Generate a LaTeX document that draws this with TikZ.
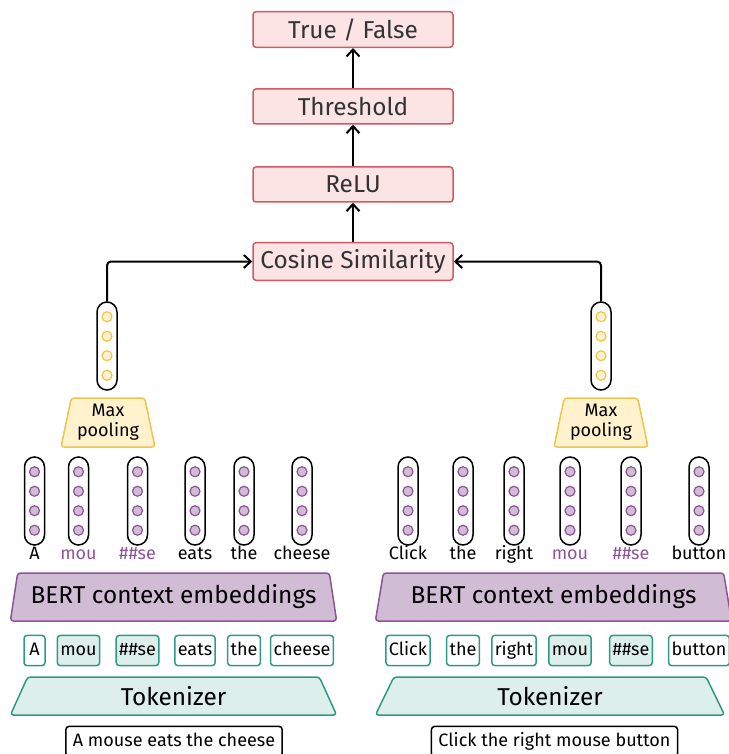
\documentclass[tikz,border=0pt]{standalone}
\usepackage{fontspec}
\setmainfont{Fira Sans}
\usetikzlibrary{shapes.geometric,arrows.meta,positioning}
\usepackage{xcolor}
\newcommand{\pxunit}{0.5pt}
\newcommand{\bigfnt}{\fontsize{12.2}{14}\selectfont}
\newcommand{\smallfnt}{\fontsize{9}{9.8}\selectfont}
\definecolor{opred}{HTML}{CF5A63}
\definecolor{opfill}{HTML}{FCE4E5}
\definecolor{poolgold}{HTML}{F0C44C}
\definecolor{poolfill}{HTML}{FFF2CC}
\definecolor{bertpur}{HTML}{8E5398}
\definecolor{bertfill}{HTML}{D1BCD5}
\definecolor{tokteal}{HTML}{2E9A82}
\definecolor{tokfill}{HTML}{DCEFEA}
\tikzset{
    opsty/.style={draw=opred,fill=opfill,rectangle,rounded corners=1.5pt,line width=0.75pt,minimum width=100pt,minimum height=17.5pt,font=\bigfnt,text=black!80},
    arrsty/.style={->,line width=1pt,rounded corners=2pt},
    vecsty/.style={draw,fill=white,rectangle,rounded corners=5pt,line width=0.75pt,minimum width=10pt,minimum height=44pt,inner sep=0pt},
    pdotsty/.style={circle,draw=bertpur,fill=bertfill,line width=0.6pt,minimum size=5pt,inner sep=0pt},
    ydotsty/.style={circle,draw=poolgold,fill=poolfill,line width=0.6pt,minimum size=5pt,inner sep=0pt},
    lblsty/.style={font=\smallfnt,anchor=base,inner sep=0pt},
    sublblsty/.style={lblsty,text=bertpur},
    toksty/.style={draw=tokteal,fill=white,rectangle,rounded corners=1.5pt,line width=0.75pt,font=\smallfnt,minimum height=14.5pt,minimum width=10.5pt,inner xsep=1.5pt,text height=6.6pt,text depth=1.8pt},
    subtoksty/.style={toksty,fill=tokfill},
    sentsty/.style={draw=black,fill=white,rectangle,rounded corners=1.5pt,line width=0.75pt,font=\smallfnt,minimum height=14.5pt,inner xsep=3.5pt,text height=6.6pt,text depth=1.8pt},
    trapsty/.style={trapezium,trapezium stretches=true,line width=0.75pt,rounded corners=1.5pt,inner sep=1pt},
    bertsty/.style={trapsty,draw=bertpur,fill=bertfill,trapezium angle=76.5,minimum height=24pt,font=\bigfnt},
    tokzsty/.style={trapsty,draw=tokteal,fill=tokfill,trapezium angle=74.5,minimum height=19pt,font=\bigfnt},
    poolsty/.style={trapsty,draw=poolgold,fill=poolfill,trapezium angle=77,minimum width=47pt,minimum height=24.5pt,font=\smallfnt,align=center},
}
% one embedding vector: name, x, y, dot style
\newcommand{\embvec}[4]{%
  \node[vecsty] (#1) at (#2,#3) {};
  \foreach \k in {1,...,4}
    \node[#4] (#1-\k) at (#2,#3-48.75+19.5*\k) {};
}

\begin{document}
\begin{tikzpicture}[x=\pxunit,y=-\pxunit,>={Straight Barb[length=3.5pt,width=6.5pt]}]
\useasboundingbox (0,0) rectangle (728,754);

% classifier head
\node[opsty] (out) at (353,29.5) {True / False};
\node[opsty] (thr) at (353,106.5) {Threshold};
\node[opsty] (relu) at (353,184.5) {ReLU};
\node[opsty] (cos) at (353,261.5) {Cosine Similarity};
\draw[arrsty] (cos.north) -- (relu.south);
\draw[arrsty] (relu.north) -- (thr.south);
\draw[arrsty] (thr.north) -- (out.south);

% pooled vectors
\embvec{lpool}{107}{346}{ydotsty}
\embvec{rpool}{601}{346}{ydotsty}
\draw[arrsty] (lpool.north) |- (cos.west);
\draw[arrsty] (rpool.north) |- (cos.east);
\node[poolsty] (lmax) at (108,422.5) {Max\\pooling};
\node[poolsty] (rmax) at (601,422.5) {Max\\pooling};

% left sentence
\embvec{lvec1}{34.5}{501}{pdotsty}
\embvec{lvec2}{78.5}{501}{pdotsty}
\embvec{lvec3}{137.5}{501}{pdotsty}
\embvec{lvec4}{195}{501}{pdotsty}
\embvec{lvec5}{244}{501}{pdotsty}
\embvec{lvec6}{302}{501}{pdotsty}
\node[lblsty] (llbl1) at (34.5,559) {A};
\node[sublblsty] (llbl2) at (78.5,559) {mou};
\node[sublblsty] (llbl3) at (137.5,559) {\#\#se};
\node[lblsty] (llbl4) at (195,559) {eats};
\node[lblsty] (llbl5) at (244,559) {the};
\node[lblsty] (llbl6) at (302,559) {cheese};
\node[bertsty,minimum width=163.5pt] (lbert) at (173.5,597) {BERT context embeddings};
\node[toksty] (ltok1) at (34.5,650.5) {A};
\node[subtoksty] (ltok2) at (78.5,650.5) {mou};
\node[subtoksty] (ltok3) at (137.5,650.5) {\#\#se};
\node[toksty] (ltok4) at (195,650.5) {eats};
\node[toksty] (ltok5) at (244,650.5) {the};
\node[toksty] (ltok6) at (302,650.5) {cheese};
\node[tokzsty,minimum width=163.5pt] (ltokz) at (173.5,696) {Tokenizer};
\node[sentsty] (lsent) at (174,741.5) {A mouse eats the cheese};

% right sentence
\embvec{rvec1}{408}{501}{pdotsty}
\embvec{rvec2}{463}{501}{pdotsty}
\embvec{rvec3}{514}{501}{pdotsty}
\embvec{rvec4}{570}{501}{pdotsty}
\embvec{rvec5}{631}{501}{pdotsty}
\embvec{rvec6}{699}{501}{pdotsty}
\node[lblsty] (rlbl1) at (408,559) {Click};
\node[lblsty] (rlbl2) at (463,559) {the};
\node[lblsty] (rlbl3) at (514,559) {right};
\node[sublblsty] (rlbl4) at (570,559) {mou};
\node[sublblsty] (rlbl5) at (631,559) {\#\#se};
\node[lblsty] (rlbl6) at (699,559) {button};
\node[bertsty,minimum width=178.5pt] (rbert) at (553.5,597) {BERT context embeddings};
\node[toksty] (rtok1) at (408,650.5) {Click};
\node[toksty] (rtok2) at (463,650.5) {the};
\node[toksty] (rtok3) at (514,650.5) {right};
\node[subtoksty] (rtok4) at (570,650.5) {mou};
\node[subtoksty] (rtok5) at (631,650.5) {\#\#se};
\node[toksty] (rtok6) at (699,650.5) {button};
\node[tokzsty,minimum width=175pt] (rtokz) at (550,696) {Tokenizer};
\node[sentsty] (rsent) at (554.5,741.5) {Click the right mouse button};
\end{tikzpicture}
\end{document}
